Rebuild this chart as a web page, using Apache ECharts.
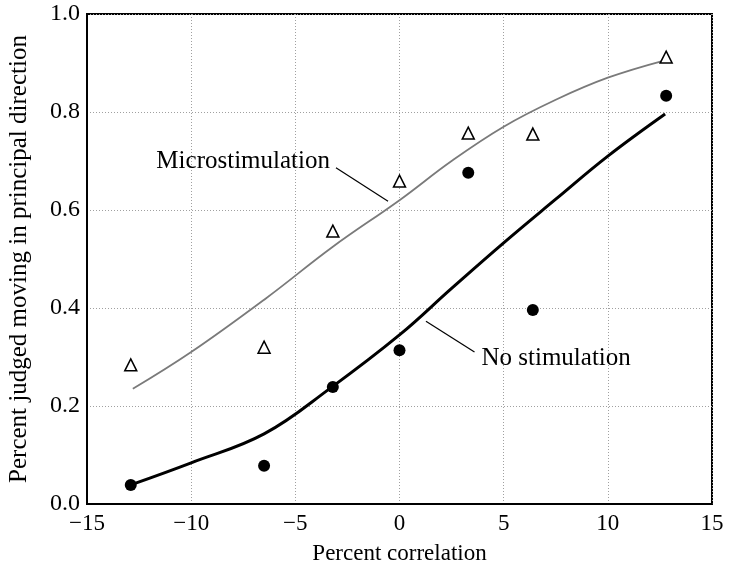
<!DOCTYPE html>
<html>
<head>
<meta charset="utf-8">
<script src="https://cdn.jsdelivr.net/npm/echarts@6/dist/echarts.min.js"></script>
<style>
  html, body { margin: 0; padding: 0; background: #fff; }
  #chart { width: 735px; height: 566px; }
</style>
</head>
<body>
<div id="chart"></div>
<script>
// Percent correlation of the stimulus at each test condition
const correlation = [-12.9, -6.5, -3.2, 0, 3.3, 6.4, 12.8];
// Proportion judged moving in the principal direction
const microstimData = [0.284, 0.32, 0.557, 0.659, 0.757, 0.755, 0.912];
const noStimData = [0.039, 0.078, 0.239, 0.314, 0.676, 0.396, 0.833];

// Fitted curves, sampled along the x axis
const microFitX = [-12.8, -10, -6.4, -3.2, 0, 2.5, 5, 7.5, 10, 12.7];
const microFitY = [0.235, 0.31, 0.42, 0.525, 0.62, 0.70, 0.77, 0.825, 0.87, 0.905];
const noStimFitX = [-12.9, -10, -6.5, -3.3, 0, 2.5, 5, 7.5, 10, 12.75];
const noStimFitY = [0.039, 0.084, 0.143, 0.237, 0.345, 0.44, 0.533, 0.622, 0.71, 0.796];

// Axis ticks
const xTicks = [-15, -10, -5, 0, 5, 10, 15];
const yTicks = [0.0, 0.2, 0.4, 0.6, 0.8, 1.0];

const FONT = 'Liberation Serif';
const zip = (xs, ys) => xs.map((x, i) => [x, ys[i]]);

// Callout labels with leader lines (data coordinates); dx/dy offset the text from the line end
const callouts = [
  { text: 'Microstimulation', from: [-3.05, 0.686], to: [-0.55, 0.618], align: 'right', dx: -6, dy: -6 },
  { text: 'No stimulation', from: [3.6, 0.31], to: [1.27, 0.373], align: 'left', dx: 7, dy: 6 }
];

const chart = echarts.init(document.getElementById('chart'));

const dottedGrid = { show: true, lineStyle: { color: '#a0a0a0', type: [1, 2], width: 1 } };

chart.setOption({
  animation: false,
  grid: {
    left: 87, right: 23, top: 14, bottom: 62, outerBoundsMode: 'none',
    show: true, borderColor: '#000', borderWidth: 2, backgroundColor: 'transparent'
  },
  xAxis: {
    type: 'value', min: xTicks[0], max: xTicks[xTicks.length - 1], interval: 5,
    axisLine: { show: true, onZero: false, lineStyle: { color: '#000', width: 2 } },
    axisTick: { show: false },
    splitLine: dottedGrid,
    axisLabel: { color: '#000', fontFamily: FONT, fontSize: 23, margin: 8,
      formatter: v => (v < 0 ? '\u2212' + Math.abs(v) : String(v)) },
    name: 'Percent correlation', nameLocation: 'middle', nameGap: 38,
    nameTextStyle: { color: '#000', fontFamily: FONT, fontSize: 23 }
  },
  yAxis: {
    type: 'value', min: yTicks[0], max: yTicks[yTicks.length - 1], interval: 0.2,
    axisLine: { show: true, onZero: false, lineStyle: { color: '#000', width: 2 } },
    axisTick: { show: false },
    splitLine: dottedGrid,
    axisLabel: { color: '#000', fontFamily: FONT, fontSize: 24, margin: 7,
      formatter: v => v.toFixed(1) },
    name: 'Percent judged moving in principal direction', nameLocation: 'middle', nameGap: 55,
    nameTextStyle: { color: '#000', fontFamily: FONT, fontSize: 25 }
  },
  series: [
    {
      name: 'Microstimulation fit', type: 'line', smooth: 0.4, showSymbol: false, silent: true,
      data: zip(microFitX, microFitY),
      lineStyle: { color: '#7a7a7a', width: 1.8 }, z: 2
    },
    {
      name: 'No stimulation fit', type: 'line', smooth: 0.4, showSymbol: false, silent: true,
      data: zip(noStimFitX, noStimFitY),
      lineStyle: { color: '#000', width: 3 }, z: 3
    },
    {
      name: 'Microstimulation', type: 'scatter', symbol: 'triangle', symbolSize: 12,
      data: zip(correlation, microstimData),
      itemStyle: { color: '#fff', borderColor: '#000', borderWidth: 1.5, opacity: 1 }, z: 5
    },
    {
      name: 'No stimulation', type: 'scatter', symbol: 'circle', symbolSize: 12,
      data: zip(correlation, noStimData),
      itemStyle: { color: '#000', opacity: 1 }, z: 5
    },
    ...callouts.map(c => ({
      type: 'line', silent: true, showSymbol: false, data: [c.from, c.to],
      lineStyle: { color: '#000', width: 1.2 }, z: 4
    }))
  ]
});

// Callout text placed beside the free end of each leader line
chart.setOption({
  graphic: callouts.map(c => {
    const p = chart.convertToPixel({ gridIndex: 0 }, c.from);
    return {
      type: 'text', x: p[0] + c.dx, y: p[1] + c.dy,
      style: {
        text: c.text, fill: '#000', font: '25px ' + FONT,
        align: c.align, verticalAlign: 'middle'
      }
    };
  })
});
</script>
</body>
</html>
